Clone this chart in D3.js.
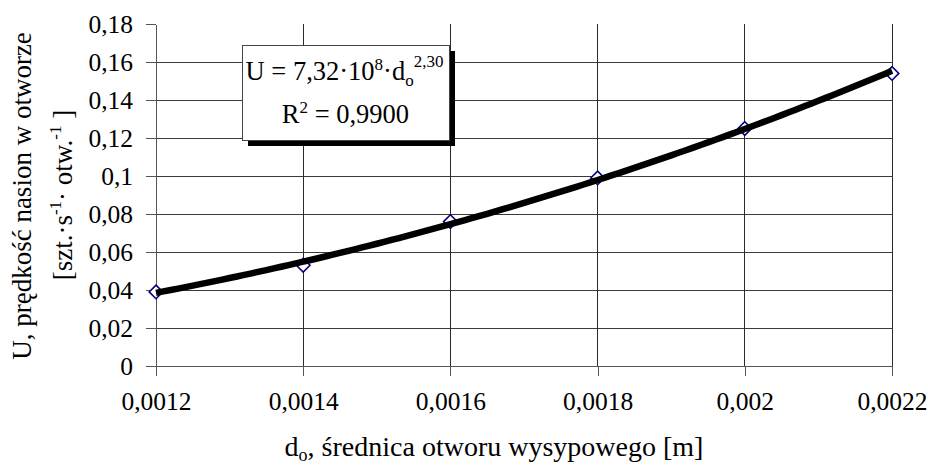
<!DOCTYPE html>
<html>
<head>
<meta charset="utf-8">
<script src="https://cdn.jsdelivr.net/npm/d3@7"></script>
<style>
  html, body { margin: 0; padding: 0; background: #fff; }
  svg { display: block; }
  svg text { font-family: "Liberation Serif", "Times New Roman", serif !important; fill: #000; }
</style>
</head>
<body>
<svg id="chart" width="928" height="466"></svg>
<script>
// ---- data ----
const diameters = [0.0012, 0.0014, 0.0016, 0.0018, 0.002, 0.0022];
const speeds    = [0.039, 0.053, 0.076, 0.099, 0.125, 0.154];
const xTicks = [0.0012, 0.0014, 0.0016, 0.0018, 0.002, 0.0022];
const xTickLabels = ["0,0012", "0,0014", "0,0016", "0,0018", "0,002", "0,0022"];
const yTicks = [0, 0.02, 0.04, 0.06, 0.08, 0.1, 0.12, 0.14, 0.16, 0.18];
const yTickLabels = ["0", "0,02", "0,04", "0,06", "0,08", "0,1", "0,12", "0,14", "0,16", "0,18"];

(function () {
const SERIF = '"Liberation Serif", "Times New Roman", serif';
const svg = d3.select("#chart");
const pLeft = 156, pRight = 892, pTop = 24, pBottom = 366;
const x = d3.scaleLinear().domain([0.0012, 0.0022]).range([pLeft, pRight]);
const y = d3.scaleLinear().domain([0, 0.18]).range([pBottom, pTop]);

// horizontal gridlines
svg.append("g").selectAll("line").data(yTicks.filter(v => v > 0 && v < 0.18)).join("line")
  .attr("x1", pLeft).attr("x2", pRight)
  .attr("y1", d => y(d)).attr("y2", d => y(d))
  .attr("stroke", "#3a3a3a").attr("stroke-width", 1).attr("shape-rendering", "crispEdges");
// vertical gridlines
svg.append("g").selectAll("line").data(xTicks.slice(1)).join("line")
  .attr("x1", d => x(d)).attr("x2", d => x(d))
  .attr("y1", pTop).attr("y2", pBottom)
  .attr("stroke", "#2a2a2a").attr("stroke-width", 1).attr("shape-rendering", "crispEdges");

// axes
const xAxis = d3.axisBottom(x).tickValues(xTicks)
  .tickFormat((d, i) => xTickLabels[i]).tickSize(10).tickSizeOuter(0).tickPadding(16);
const gx = svg.append("g").attr("transform", `translate(0,${pBottom})`).call(xAxis);
const yAxis = d3.axisLeft(y).tickValues(yTicks)
  .tickFormat((d, i) => yTickLabels[i]).tickSize(10).tickSizeOuter(0).tickPadding(13);
const gy = svg.append("g").attr("transform", `translate(${pLeft},0)`).call(yAxis);
[gx, gy].forEach(g => {
  g.attr("font-family", null).attr("font-size", null);
  g.select(".domain").attr("stroke", "#555").attr("stroke-width", 1.2).attr("shape-rendering", "crispEdges");
  g.selectAll(".tick line").attr("stroke", "#555").attr("shape-rendering", "crispEdges");
  g.selectAll(".tick text").style("font-family", SERIF).style("font-size", "25.5px").attr("fill", "#000");
});

// markers (diamonds)
const pts = diameters.map((d, i) => [d, speeds[i]]);
svg.append("g").selectAll("path").data(pts).join("path")
  .attr("d", d3.symbol(d3.symbolDiamond2, 118))
  .attr("transform", d => `translate(${x(d[0])},${y(d[1])})`)
  .attr("fill", "#fff").attr("stroke", "#000080").attr("stroke-width", 1.6);

// power trendline fitted to the data (least squares on log-log)
const lx = diameters.map(Math.log), ly = speeds.map(Math.log);
const mx = d3.mean(lx), my = d3.mean(ly);
const b = d3.sum(lx.map((v, i) => (v - mx) * (ly[i] - my))) / d3.sum(lx.map(v => (v - mx) ** 2));
const a = Math.exp(my - b * mx);
const trendX = d3.range(0, 101).map(i => 0.0012 + i * 0.00001);
svg.append("path")
  .datum(trendX)
  .attr("d", d3.line().x(d => x(d)).y(d => y(a * Math.pow(d, b))))
  .attr("fill", "none").attr("stroke", "#000").attr("stroke-width", 6.5)
  .attr("stroke-linecap", "butt");

// equation box
const bx = 242, by = 45, bw = 207, bh = 95;
svg.append("rect").attr("x", bx + 6).attr("y", by + 6).attr("width", bw).attr("height", bh).attr("fill", "#000");
svg.append("rect").attr("x", bx).attr("y", by).attr("width", bw).attr("height", bh)
  .attr("fill", "#fff").attr("stroke", "#444").attr("stroke-width", 1).attr("shape-rendering", "crispEdges");
const eq = svg.append("text").attr("x", bx + bw / 2 - 1).attr("y", 80).attr("text-anchor", "middle").style("font-size", "26.5px");
eq.append("tspan").text("U = 7,32·10");
eq.append("tspan").attr("dy", -10).style("font-size", "17px").text("8");
eq.append("tspan").attr("dy", 10).text("·d");
eq.append("tspan").attr("dy", 6).style("font-size", "17px").text("o");
eq.append("tspan").attr("dy", -19).style("font-size", "17px").text("2,30");
const r2 = svg.append("text").attr("x", bx + bw / 2).attr("y", 123).attr("text-anchor", "middle").style("font-size", "26.5px");
r2.append("tspan").text("R");
r2.append("tspan").attr("dy", -10).style("font-size", "17px").text("2");
r2.append("tspan").attr("dy", 10).text(" = 0,9900");

// x title
const xt = svg.append("text").attr("x", 494).attr("y", 456).attr("text-anchor", "middle").style("font-size", "28px");
xt.append("tspan").text("d");
xt.append("tspan").attr("dy", 5).style("font-size", "18px").text("o");
xt.append("tspan").attr("dy", -5).text(", średnica otworu wysypowego [m]");

// y title
svg.append("text").attr("transform", "translate(31,196) rotate(-90)")
  .attr("text-anchor", "middle").style("font-size", "27px").text("U, prędkość nasion w otworze");
const yt2 = svg.append("text").attr("transform", "translate(72,195) rotate(-90)")
  .attr("text-anchor", "middle").style("font-size", "27px");
yt2.append("tspan").text("[szt.·s");
yt2.append("tspan").attr("dy", -11).style("font-size", "17px").text("-1");
yt2.append("tspan").attr("dy", 11).text("· otw.");
yt2.append("tspan").attr("dy", -11).style("font-size", "17px").text("-1");
yt2.append("tspan").attr("dy", 11).text(" ]");
})();
</script>
</body>
</html>
